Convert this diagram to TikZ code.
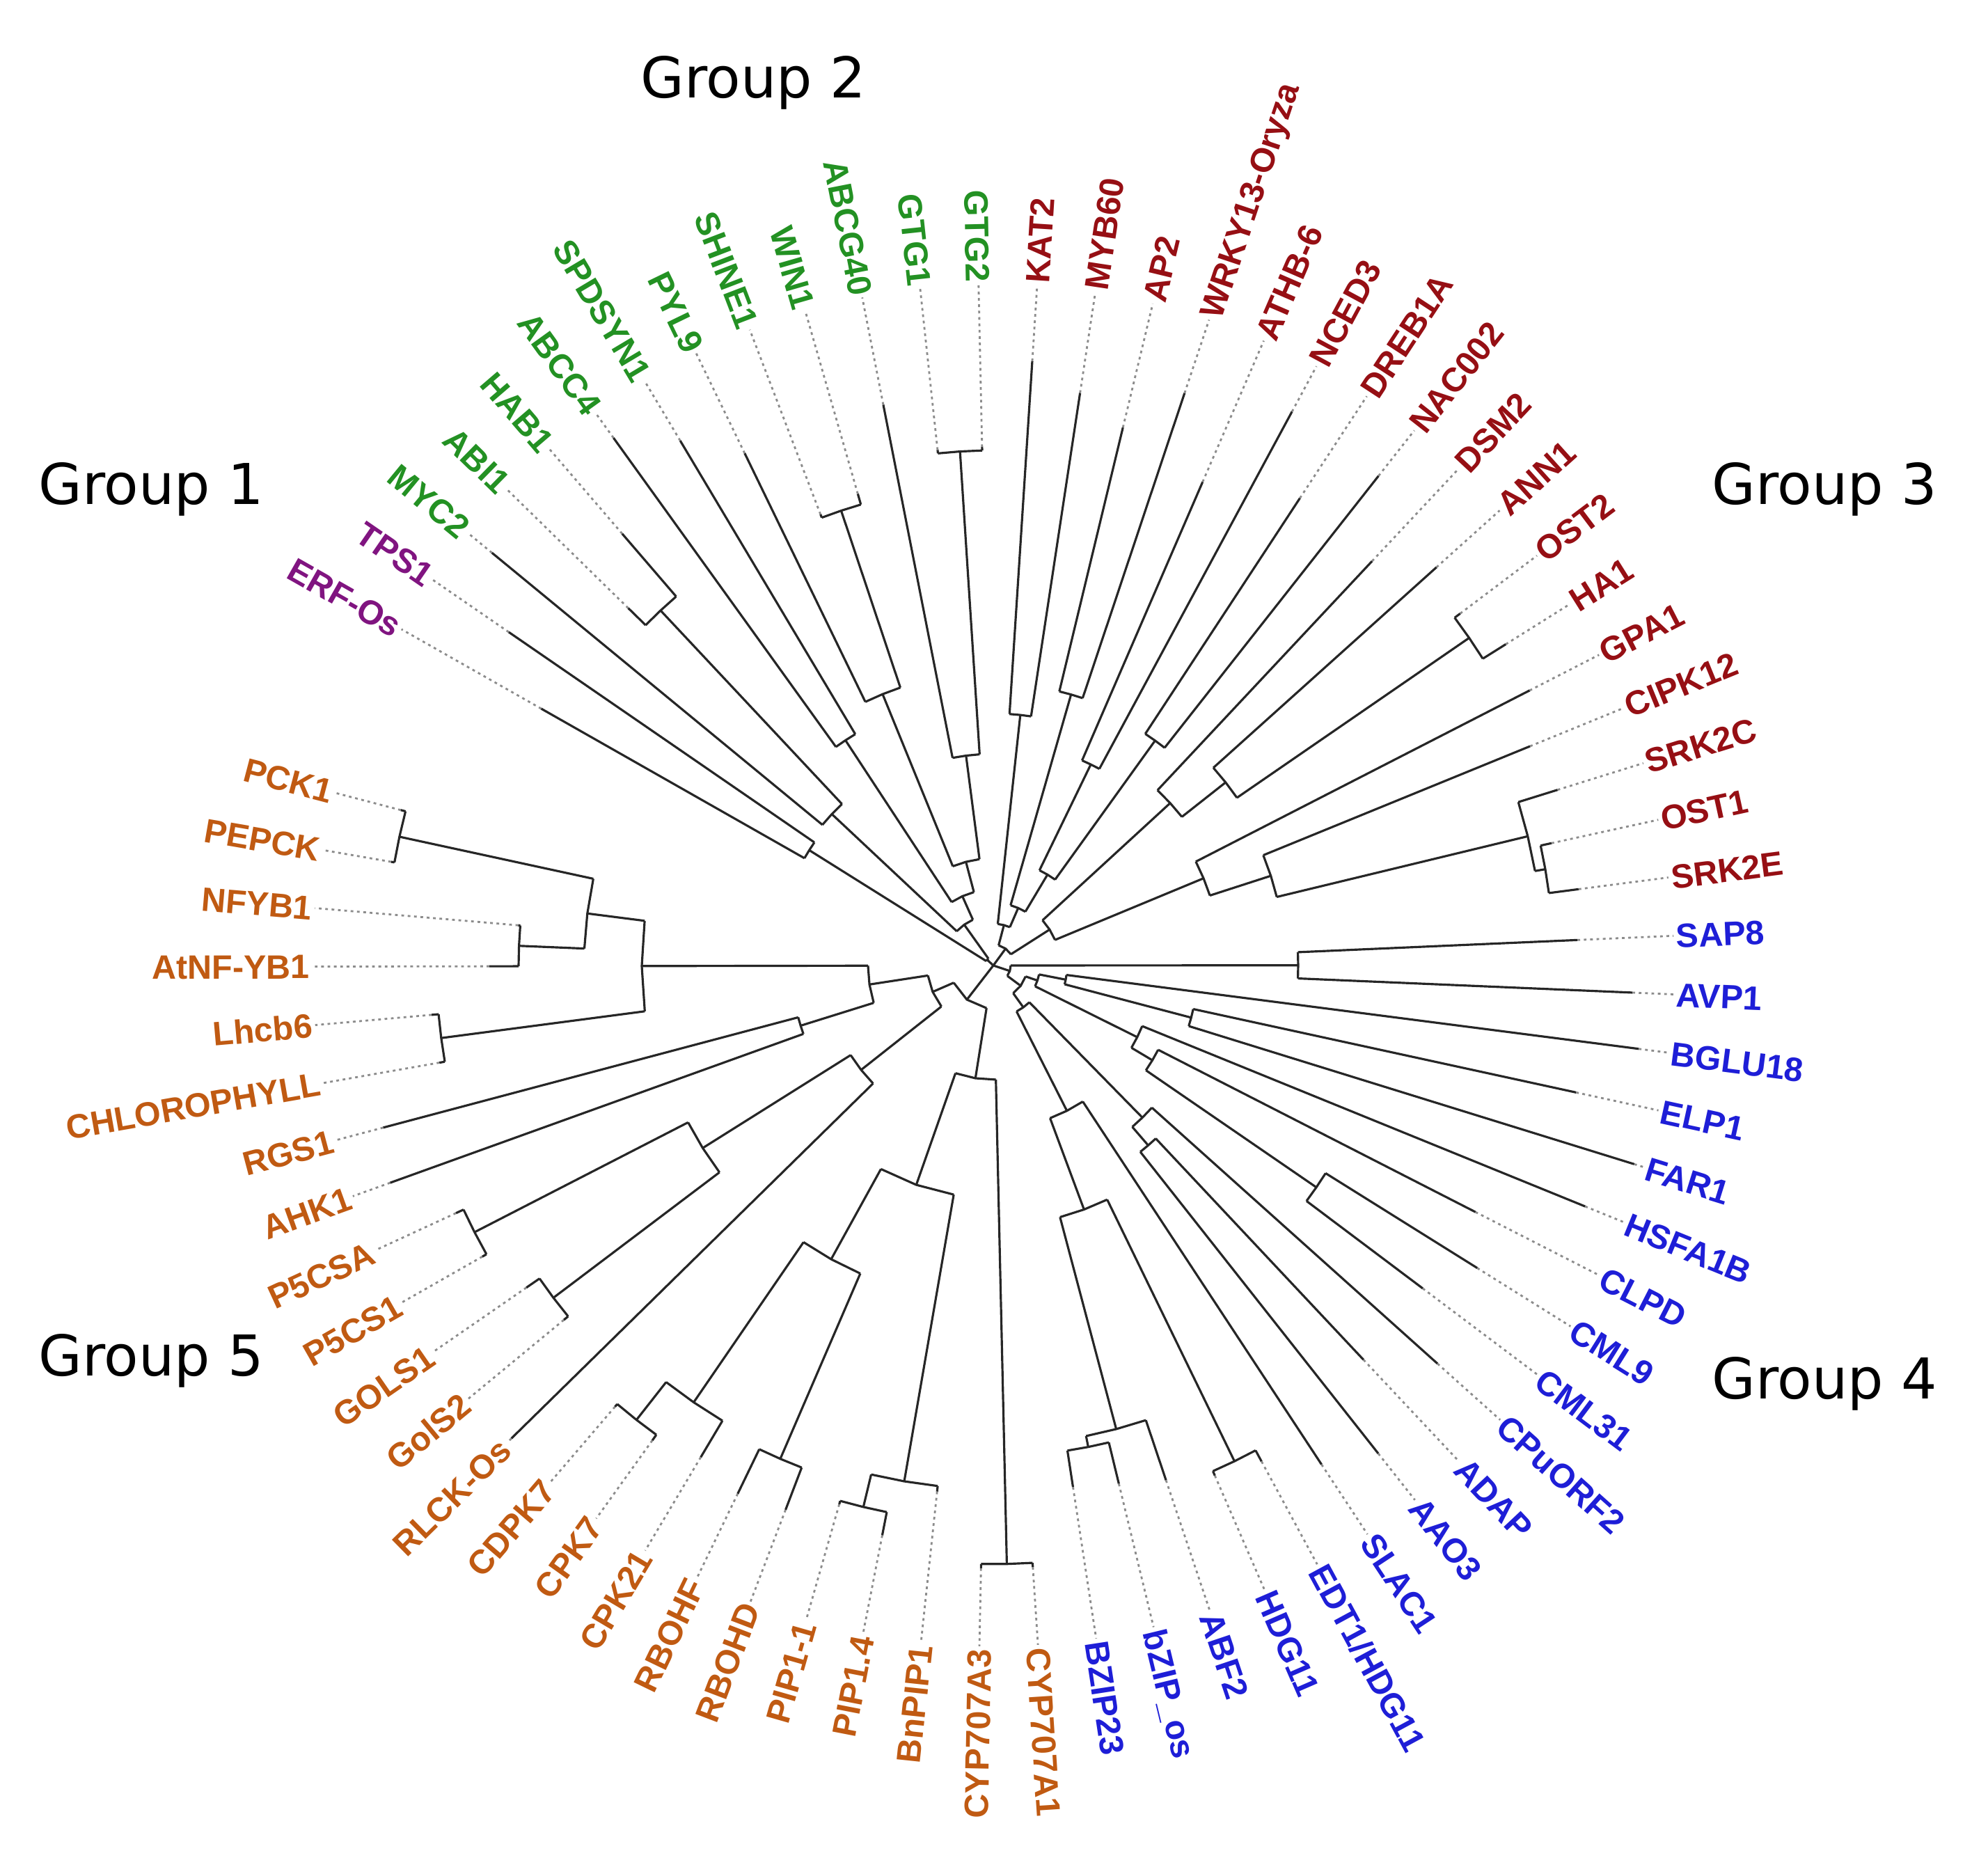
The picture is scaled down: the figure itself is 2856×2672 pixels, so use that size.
\documentclass[tikz,border=0pt]{standalone}
\usepackage{fontspec}
\newfontfamily\lblfont{Liberation Sans}
\newfontfamily\grpfont{DejaVu Sans}

\definecolor{grpone}{RGB}{128,20,128}
\definecolor{grptwo}{RGB}{35,145,35}
\definecolor{grpthree}{RGB}{150,15,20}
\definecolor{grpfour}{RGB}{30,30,215}
\definecolor{grpfive}{RGB}{192,90,18}

% slot k of the 73 leaf positions -> angle
\pgfmathdeclarefunction{lf}{1}{\pgfmathparse{150.4-4.93*#1}}

\tikzset{
  branch/.style={draw=black!85,line width=0.9pt},
  dots/.style={draw=black!45,line width=0.8pt,dash pattern=on 1.1pt off 1.5pt},
  lbl/.style={font=\lblfont\bfseries\fontsize{13.8}{16}\selectfont,inner sep=1pt,
    text height=9.9pt,text depth=0pt},
  grp/.style={font=\grpfont\fontsize{23}{27}\selectfont,anchor=base west,inner sep=0pt}
}

% name, slot, radius, radius of parent
\newcommand{\twig}[4]{%
  \coordinate (#1) at ({lf(#2)}:#3);
  \coordinate (#1-f) at ({lf(#2)}:#4);
  \draw[branch] (#1-f) -- (#1);}
% parent, child, child
\newcommand{\joinpair}[3]{\draw[branch] (#2-f) -- (#1) -- (#3-f);}
% name, slot, tip radius, parent radius, colour, text
\newcommand{\leafR}[6]{%
  \twig{#1}{#2}{#3}{#4}
  \node[lbl,text=#5,anchor=west,rotate={lf(#2)}] (#1-l) at ({lf(#2)}:978) {#6};
  \draw[dots] (#1) -- (#1-l.west);}
\newcommand{\leafL}[6]{%
  \twig{#1}{#2}{#3}{#4}
  \node[lbl,text=#5,anchor=east,rotate={lf(#2)+180}] (#1-l) at ({lf(#2)}:978) {#6};
  \draw[dots] (#1) -- (#1-l.east);}

\begin{document}
\begin{tikzpicture}[x=0.01cm,y=0.01cm]
\useasboundingbox (-1427,-1285) rectangle (1429,1387);

%group 1 and group 2
\twig{nA}{2.78}{12}{0}
\twig{ng}{0.5}{312}{12}
\twig{nh}{5.06}{72}{12}
\twig{nf}{2.75}{318}{72}
\twig{nd}{7.375}{109}{72}
\twig{nab}{3.5}{699}{318}
\twig{ne}{5.5}{387}{109}
\twig{nc}{9.25}{154}{109}
\twig{na}{7.75}{421}{154}
\twig{nb}{10.75}{304}{154}
\twig{nsw}{8.5}{689}{421}
\twig{ngtg}{11.5}{740}{304}

\leafL{erf}{0}{747}{312}{grpone}{ERF-Os}
\leafL{tps}{1}{845}{312}{grpone}{TPS1}
\leafL{myc}{2}{933}{318}{grptwo}{MYC2}
\leafL{abi}{3}{734}{699}{grptwo}{ABI1}
\leafL{hab}{4}{818}{699}{grptwo}{HAB1}
\leafL{abcc}{5}{934}{387}{grptwo}{ABCC4}
\leafL{spd}{6}{878}{387}{grptwo}{SPDSYN1}
\leafL{pyl}{7}{818}{421}{grptwo}{PYL9}
\leafL{shi}{8}{694}{689}{grptwo}{SHINE1}
\leafL{win}{9}{705}{689}{grptwo}{WIN1}
\leafL{abcg}{10}{821}{304}{grptwo}{ABCG40}
\leafL{gtga}{11}{745}{740}{grptwo}{GTG1}
\leafL{gtgb}{12}{745}{740}{grptwo}{GTG2}

\joinpair{nA}{ng}{nh}
\joinpair{ng}{erf}{tps}
\joinpair{nh}{nf}{nd}
\joinpair{nf}{myc}{nab}
\joinpair{nab}{abi}{hab}
\joinpair{nd}{ne}{nc}
\joinpair{ne}{abcc}{spd}
\joinpair{nc}{na}{nb}
\joinpair{na}{pyl}{nsw}
\joinpair{nsw}{shi}{win}
\joinpair{nb}{abcg}{ngtg}
\joinpair{ngtg}{gtga}{gtgb}

%group 3
\twig{n13}{19.58}{30}{0}
\twig{n12}{15.25}{60}{30}
\twig{n9}{23.906}{96}{30}
\twig{nkm}{13.5}{362}{60}
\twig{n8}{17}{90}{60}
\twig{naw}{15.5}{405}{90}
\twig{n7}{18.5}{152}{90}
\twig{nan}{17.5}{321}{152}
\twig{ndn}{19.5}{398}{152}
\twig{n5}{21.875}{345}{96}
\twig{n6}{22.75}{425}{345}
\twig{noh}{23.5}{830}{425}
\twig{n10}{25.9375}{327}{96}
\twig{n11}{26.875}{419}{327}
\twig{ns1}{27.75}{790}{419}
\twig{nos}{28.5}{805}{790}

\leafR{kat}{13}{870}{362}{grpthree}{KAT2}
\leafR{myb}{14}{832}{362}{grpthree}{MYB60}
\leafR{aptwo}{15}{795}{405}{grpthree}{AP2}
\leafR{wrky}{16}{867}{405}{grpthree}{WRKY13-Oryza}
\leafR{athb}{17}{757}{321}{grpthree}{ATHB-6}
\leafR{nced}{18}{904}{321}{grpthree}{NCED3}
\leafR{dreb}{19}{803}{398}{grpthree}{DREB1A}
\leafR{nac}{20}{895}{398}{grpthree}{NAC002}
\leafR{dsm}{21}{796}{345}{grpthree}{DSM2}
\leafR{ann}{22}{856}{425}{grpthree}{ANN1}
\leafR{osttwo}{23}{840}{830}{grpthree}{OST2}
\leafR{haone}{24}{869}{830}{grpthree}{HA1}
\leafR{gpa}{25}{866}{327}{grpthree}{GPA1}
\leafR{cipk}{26}{833}{419}{grpthree}{CIPK12}
\leafR{srkc}{27}{849}{790}{grpthree}{SRK2C}
\leafR{ostone}{28}{821}{805}{grpthree}{OST1}
\leafR{srke}{29}{848}{805}{grpthree}{SRK2E}

\joinpair{n13}{n12}{n9}
\joinpair{n12}{nkm}{n8}
\joinpair{nkm}{kat}{myb}
\joinpair{n8}{naw}{n7}
\joinpair{naw}{aptwo}{wrky}
\joinpair{n7}{nan}{ndn}
\joinpair{nan}{athb}{nced}
\joinpair{ndn}{dreb}{nac}
\joinpair{n9}{n5}{n10}
\joinpair{n5}{dsm}{n6}
\joinpair{n6}{ann}{noh}
\joinpair{noh}{osttwo}{haone}
\joinpair{n10}{gpa}{n11}
\joinpair{n11}{cipk}{ns1}
\joinpair{ns1}{srkc}{nos}
\joinpair{nos}{ostone}{srke}

%group 4
\twig{no}{34.21}{25}{0}
\twig{nsa}{30.5}{438}{25}
\twig{np}{37.92}{49}{25}
\twig{ny}{34.3125}{67}{49}
\twig{nr}{41.53}{74}{49}
\twig{nbef}{32.75}{106}{67}
\twig{nef}{33.5}{294}{106}
\twig{nz}{35.875}{231}{67}
\twig{nw}{36.75}{266}{231}
\twig{ncm}{37.5}{563}{266}
\twig{nv}{39.75}{306}{74}
\twig{nu}{40.5}{341}{306}
\twig{nt}{43.3125}{234}{74}
\twig{nq}{44.625}{374}{234}
\twig{nhe}{43.5}{792}{374}
\twig{nbba}{45.75}{689}{374}
\twig{nbb}{46.5}{705}{689}

\leafR{sap}{30}{840}{438}{grpfour}{SAP8}
\leafR{avp}{31}{919}{438}{grpfour}{AVP1}
\leafR{bglu}{32}{935}{106}{grpfour}{BGLU18}
\leafR{elp}{33}{857}{294}{grpfour}{ELP1}
\leafR{far}{34}{964}{294}{grpfour}{FAR1}
\leafR{hsf}{35}{918}{231}{grpfour}{HSFA1B}
\leafR{clpd}{36}{778}{266}{grpfour}{CLPD}
\leafR{cmla}{37}{820}{563}{grpfour}{CML9}
\leafR{cmlb}{38}{772}{563}{grpfour}{CML31}
\leafR{cpu}{39}{857}{306}{grpfour}{CPuORF2}
\leafR{adap}{40}{777}{341}{grpfour}{ADAP}
\leafR{aao}{41}{893}{341}{grpfour}{AAO3}
\leafR{slac}{42}{858}{234}{grpfour}{SLAC1}
\leafR{edt}{43}{810}{792}{grpfour}{EDT1/HDG11}
\leafR{hdg}{44}{799}{792}{grpfour}{HDG11}
\leafR{abf}{45}{780}{689}{grpfour}{ABF2}
\leafR{bzos}{46}{766}{705}{grpfour}{bZIP\_os}
\leafR{bzip}{47}{758}{705}{grpfour}{BZIP23}

\joinpair{no}{nsa}{np}
\joinpair{nsa}{sap}{avp}
\joinpair{np}{ny}{nr}
\joinpair{ny}{nbef}{nz}
\joinpair{nbef}{bglu}{nef}
\joinpair{nef}{elp}{far}
\joinpair{nz}{hsf}{nw}
\joinpair{nw}{clpd}{ncm}
\joinpair{ncm}{cmla}{cmlb}
\joinpair{nr}{nv}{nt}
\joinpair{nv}{cpu}{nu}
\joinpair{nu}{adap}{aao}
\joinpair{nt}{slac}{nq}
\joinpair{nq}{nhe}{nbba}
\joinpair{nhe}{edt}{hdg}
\joinpair{nbba}{abf}{nbb}
\joinpair{nbb}{bzos}{bzip}

%group 5
\twig{ngam}{56.42}{62}{0}
\twig{ncone}{50.59}{164}{62}
\twig{nal}{62.25}{95}{62}
\twig{ncyp}{48.5}{860}{164}
\twig{nctwo}{52.6875}{334}{164}
\twig{npone}{50.75}{752}{334}
\twig{nptwo}{51.5}{800}{752}
\twig{nrtwo}{54.625}{482}{334}
\twig{nrr}{53.5}{772}{482}
\twig{nkone}{55.75}{761}{482}
\twig{nktwo}{56.5}{830}{761}
\twig{ngol}{59.25}{242}{95}
\twig{ngp}{60.5}{493}{242}
\twig{ngg}{59.5}{792}{493}
\twig{npp}{61.5}{838}{493}
\twig{nbig}{65.25}{180}{95}
\twig{nar}{63.5}{290}{180}
\twig{ntop}{67}{505}{180}
\twig{nlc}{65.5}{800}{505}
\twig{nppn}{68.5}{588}{505}
\twig{nna}{67.5}{682}{588}
\twig{npk}{69.5}{873}{588}

\leafR{cypa}{48}{866}{860}{grpfive}{CYP707A1}
\leafL{cypb}{49}{866}{860}{grpfive}{CYP707A3}
\leafL{bnp}{50}{760}{752}{grpfive}{BnPIP1}
\leafL{pipd}{51}{834}{800}{grpfive}{PIP1.4}
\leafL{pipa}{52}{805}{800}{grpfive}{PIP1-1}
\leafL{rbd}{53}{837}{772}{grpfive}{RBOHD}
\leafL{rbf}{54}{843}{772}{grpfive}{RBOHF}
\leafL{cpkb}{55}{822}{761}{grpfive}{CPK21}
\leafL{cpka}{56}{840}{830}{grpfive}{CPK7}
\leafL{cdpk}{57}{835}{830}{grpfive}{CDPK7}
\leafL{rlck}{58}{970}{242}{grpfive}{RLCK-Os}
\leafL{golb}{59}{800}{792}{grpfive}{GolS2}
\leafL{gola}{60}{815}{792}{grpfive}{GOLS1}
\leafL{pcsb}{61}{845}{838}{grpfive}{P5CS1}
\leafL{pcsa}{62}{850}{838}{grpfive}{P5CSA}
\leafL{ahk}{63}{921}{290}{grpfive}{AHK1}
\leafL{rgs}{64}{907}{290}{grpfive}{RGS1}
\leafL{chl}{65}{808}{800}{grpfive}{CHLOROPHYLL}
\leafL{lhc}{66}{810}{800}{grpfive}{Lhcb6}
\leafL{atnf}{67}{724}{682}{grpfive}{AtNF-YB1}
\leafL{nfyb}{68}{685}{682}{grpfive}{NFYB1}
\leafL{pepck}{69}{878}{873}{grpfive}{PEPCK}
\leafL{pck}{70}{880}{873}{grpfive}{PCK1}

\joinpair{ngam}{ncone}{nal}
\joinpair{ncone}{ncyp}{nctwo}
\joinpair{ncyp}{cypa}{cypb}
\joinpair{nctwo}{npone}{nrtwo}
\joinpair{npone}{bnp}{nptwo}
\joinpair{nptwo}{pipd}{pipa}
\joinpair{nrtwo}{nrr}{nkone}
\joinpair{nrr}{rbd}{rbf}
\joinpair{nkone}{cpkb}{nktwo}
\joinpair{nktwo}{cpka}{cdpk}
\joinpair{nal}{ngol}{nbig}
\joinpair{ngol}{rlck}{ngp}
\joinpair{ngp}{ngg}{npp}
\joinpair{ngg}{golb}{gola}
\joinpair{npp}{pcsb}{pcsa}
\joinpair{nbig}{nar}{ntop}
\joinpair{nar}{ahk}{rgs}
\joinpair{ntop}{nlc}{nppn}
\joinpair{nlc}{chl}{lhc}
\joinpair{nppn}{nna}{npk}
\joinpair{nna}{atnf}{nfyb}
\joinpair{npk}{pepck}{pck}

%group names
\node[grp] (gone) at (-1372,662) {Group 1};
\node[grp] (gtwo) at (-507,1246) {Group 2};
\node[grp] (gthree) at (1032,662) {Group 3};
\node[grp] (gfour) at (1032,-622) {Group 4};
\node[grp] (gfive) at (-1372,-589) {Group 5};
\end{tikzpicture}
\end{document}
